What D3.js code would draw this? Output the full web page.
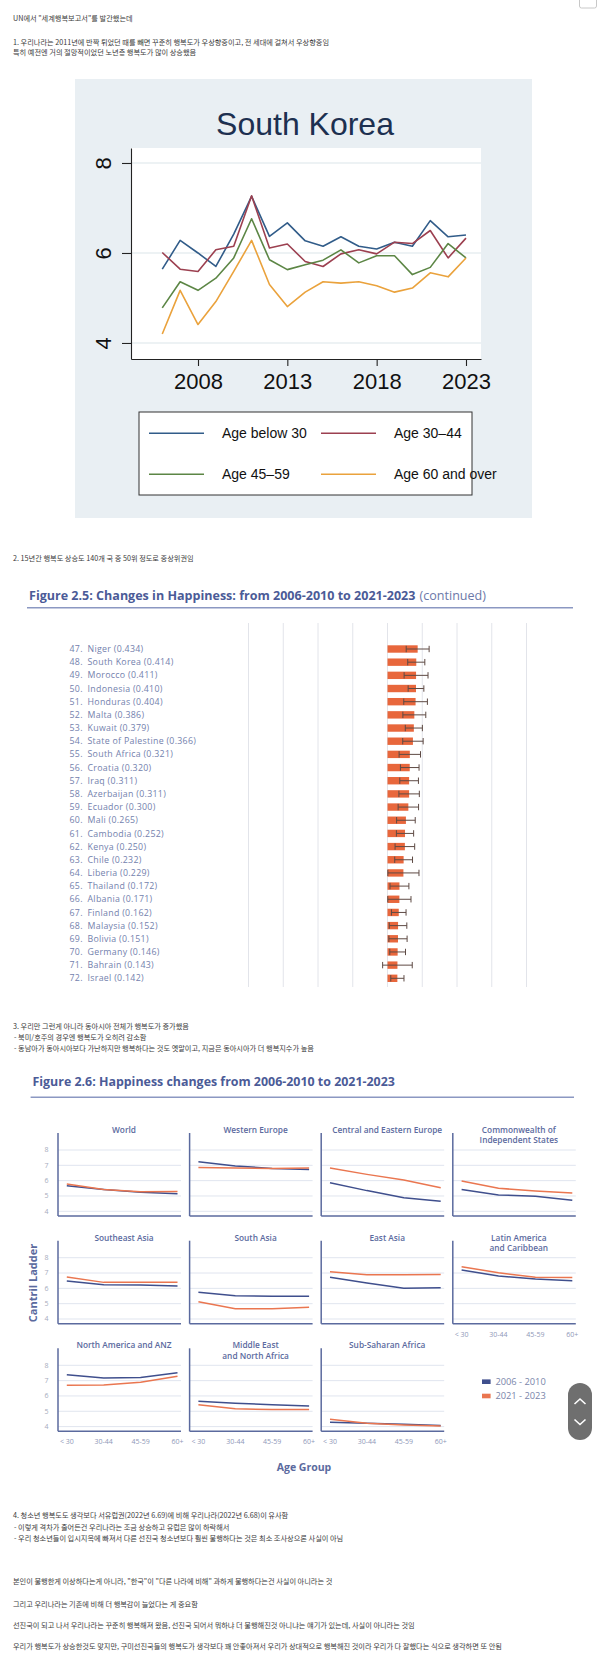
<!DOCTYPE html>
<html><head><meta charset="utf-8">
<script src="https://cdn.jsdelivr.net/npm/d3@7"></script>
<style>body{margin:0;background:#fff}svg{display:block}</style>
</head><body>
<svg id="page" width="600" height="1656"></svg>
<script>
// ---------------- DATA ----------------
const koreaYears = [2006,2007,2008,2009,2010,2011,2012,2013,2014,2015,2016,2017,2018,2019,2020,2021,2022,2023];
const ageBelow30 = [5.64,6.28,6.00,5.70,6.42,7.26,6.37,6.67,6.27,6.15,6.36,6.15,6.09,6.24,6.15,6.72,6.36,6.40];
const age30to44  = [6.01,5.64,5.59,6.07,6.15,7.27,6.11,6.20,5.81,5.70,5.98,6.07,5.98,6.24,6.21,6.50,5.89,6.33];
const age45to59  = [4.78,5.36,5.17,5.44,5.89,6.76,5.85,5.63,5.74,5.84,6.07,5.78,5.94,5.94,5.52,5.68,6.21,5.89];
const age60plus  = [4.20,5.17,4.41,4.92,5.59,6.28,5.30,4.81,5.13,5.36,5.33,5.36,5.27,5.13,5.22,5.56,5.47,5.89];
const koreaSeriesNames = ["Age below 30","Age 30\u201344","Age 45\u201359","Age 60 and over"];
const koreaYTicks = [4,6,8];
const koreaXTicks = [2008,2013,2018,2023];

const ranks = [47,48,49,50,51,52,53,54,55,56,57,58,59,60,61,62,63,64,65,66,67,68,69,70,71,72];
const countries = ["Niger","South Korea","Morocco","Indonesia","Honduras","Malta","Kuwait","State of Palestine","South Africa","Croatia","Iraq","Azerbaijan","Ecuador","Mali","Cambodia","Kenya","Chile","Liberia","Thailand","Albania","Finland","Malaysia","Bolivia","Germany","Bahrain","Israel"];
const changes = [0.434,0.414,0.411,0.410,0.404,0.386,0.379,0.366,0.321,0.320,0.311,0.311,0.300,0.265,0.252,0.250,0.232,0.229,0.172,0.171,0.162,0.152,0.151,0.146,0.143,0.142];
const margins = [0.165,0.123,0.172,0.113,0.170,0.165,0.123,0.147,0.154,0.134,0.134,0.147,0.147,0.134,0.124,0.141,0.128,0.224,0.136,0.167,0.105,0.126,0.131,0.113,0.213,0.095];
const changeGrid = [-2,-1.5,-1,-0.5,0,0.5,1,1.5,2];

const regions = ["World","Western Europe","Central and Eastern Europe","Commonwealth of\nIndependent States","Southeast Asia","South Asia","East Asia","Latin America\nand Caribbean","North America and ANZ","Middle East\nand North Africa","Sub-Saharan Africa"];
const ageGroups = ["< 30","30-44","45-59","60+"];
const ladder2006to2010 = [
  [5.67,5.43,5.24,5.15],[7.24,6.96,6.80,6.72],[5.87,5.35,4.89,4.65],[5.43,5.07,4.98,4.72],
  [6.48,6.24,6.22,6.15],[5.74,5.52,5.48,5.48],[6.72,6.35,6.00,6.04],[7.20,6.80,6.61,6.50],
  [7.39,7.17,7.20,7.52],[5.65,5.52,5.43,5.35],[4.28,4.22,4.15,4.07]];
const ladder2021to2023 = [
  [5.78,5.43,5.28,5.30],[6.85,6.83,6.80,6.82],[6.83,6.41,6.04,5.54],[5.98,5.50,5.33,5.20],
  [6.74,6.39,6.39,6.39],[5.13,4.67,4.67,4.76],[7.09,6.89,6.89,6.91],[7.41,7.02,6.72,6.70],
  [6.70,6.72,6.89,7.28],[5.43,5.17,5.11,5.11],[4.48,4.22,4.11,4.04]];
const ladderTicks = [4,5,6,7,8];
const periodNames = ["2006 - 2010","2021 - 2023"];

const introLines = ["UN\uc5d0\uc11c \"\uc138\uacc4\ud589\ubcf5\ubcf4\uace0\uc11c\"\ub97c \ubc1c\uac04\ud588\ub294\ub370",
  "1. \uc6b0\ub9ac\ub098\ub77c\ub294 2011\ub144\uc5d0 \ubc18\uc9dd \ud280\uc5c8\ub358 \ub54c\ub97c \ube7c\uba74 \uafb8\uc900\ud788 \ud589\ubcf5\ub3c4\uac00 \uc6b0\uc0c1\ud5a5\uc911\uc774\uace0, \uc804 \uc138\ub300\uc5d0 \uac78\uccd0\uc11c \uc6b0\uc0c1\ud5a5\uc911\uc784",
  "\ud2b9\ud788 \uc608\uc804\uc5d4 \uac70\uc758 \uc808\ub9dd\uc801\uc774\uc5c8\ub358 \ub178\ub144\uce35 \ud589\ubcf5\ub3c4\uac00 \ub9ce\uc774 \uc0c1\uc2b9\ud588\uc74c"];
const section2Lines = ["2. 15\ub144\uac04 \ud589\ubcf5\ub3c4 \uc0c1\uc2b9\ub3c4 140\uac1c \uad6d \uc911 50\uc704 \uc815\ub3c4\ub85c \uc911\uc0c1\uc704\uad8c\uc784"];
const section3Lines = ["3. \uc6b0\ub9ac\ub9cc \uadf8\ub7f0\uac8c \uc544\ub2c8\ub77c \ub3d9\uc544\uc2dc\uc544 \uc804\uccb4\uac00 \ud589\ubcf5\ub3c4\uac00 \uc99d\uac00\ud588\uc74c",
  "- \ubd81\ubbf8/\ud638\uc8fc\uc758 \uacbd\uc6b0\uc5d4 \ud589\ubcf5\ub3c4\uac00 \uc624\ud788\ub824 \uac10\uc18c\ud568",
  "- \ub3d9\ub0a8\uc544\uac00 \ub3d9\uc544\uc2dc\uc544\ubcf4\ub2e4 \uac00\ub09c\ud558\uc9c0\ub9cc \ud589\ubcf5\ud558\ub2e4\ub294 \uac83\ub3c4 \uc61b\ub9d0\uc774\uace0, \uc9c0\uae08\uc740 \ub3d9\uc544\uc2dc\uc544\uac00 \ub354 \ud589\ubcf5\uc9c0\uc218\uac00 \ub192\uc74c"];
const section4Lines = ["4. \uccad\uc18c\ub144 \ud589\ubcf5\ub3c4\ub3c4 \uc0dd\uac01\ubcf4\ub2e4 \uc11c\uc720\ub7fd\uad8c(2022\ub144 6.69)\uc5d0 \ube44\ud574 \uc6b0\ub9ac\ub098\ub77c(2022\ub144 6.68)\uc774 \uc720\uc0ac\ud568",
  "- \uc774\ub807\uac8c \uaca9\ucc28\uac00 \uc904\uc5b4\ub4e0\uac74 \uc6b0\ub9ac\ub098\ub77c\ub294 \uc870\uae08 \uc0c1\uc2b9\ud558\uace0 \uc720\ub7fd\uc740 \ub9ce\uc774 \ud558\ub77d\ud574\uc11c",
  "- \uc6b0\ub9ac \uccad\uc18c\ub144\ub4e4\uc774 \uc785\uc2dc\uc9c0\uc625\uc5d0 \ube60\uc838\uc11c \ub2e4\ub978 \uc120\uc9c4\uad6d \uccad\uc18c\ub144\ubcf4\ub2e4 \ud6e8\uc52c \ubd88\ud589\ud558\ub2e4\ub294 \uac83\uc740 \ucd5c\uc18c \uc870\uc0ac\uc0c1\uc73c\ub860 \uc0ac\uc2e4\uc774 \uc544\ub2d8"];
const closingLines = ["\ubcf8\uc778\uc774 \ubd88\ud589\ud55c\uac8c \uc774\uc0c1\ud558\ub2e4\ub294\uac8c \uc544\ub2c8\ub77c, \"\ud55c\uad6d\"\uc774 \"\ub2e4\ub978 \ub098\ub77c\uc5d0 \ube44\ud574\" \uacfc\ud558\uac8c \ubd88\ud589\ud558\ub2e4\ub294\uac74 \uc0ac\uc2e4\uc774 \uc544\ub2c8\ub77c\ub294 \uac83",
  "\uadf8\ub9ac\uace0 \uc6b0\ub9ac\ub098\ub77c\ub294 \uae30\uc874\uc5d0 \ube44\ud574 \ub354 \ud589\ubcf5\uac10\uc774 \ub298\uc5c8\ub2e4\ub294 \uac8c \uc911\uc694\ud568",
  "\uc120\uc9c4\uad6d\uc774 \ub418\uace0 \ub098\uc11c \uc6b0\ub9ac\ub098\ub77c\ub294 \uafb8\uc900\ud788 \ud589\ubcf5\ud574\uc838 \uc654\uc74c, \uc120\uc9c4\uad6d \ub418\uc5b4\uc11c \ubb50\ud558\ub0d0 \ub354 \ubd88\ud589\ud574\uc9c4\uac83 \uc544\ub2c8\ub0d0\ub294 \uc598\uae30\uac00 \uc788\ub294\ub370, \uc0ac\uc2e4\uc774 \uc544\ub2c8\ub77c\ub294 \uac83\uc784",
  "\uc6b0\ub9ac\uac00 \ud589\ubcf5\ub3c4\uac00 \uc0c1\uc2b9\ud55c\uac83\ub3c4 \ub9de\uc9c0\ub9cc, \uad6c\ubbf8\uc120\uc9c4\uad6d\ub4e4\uc758 \ud589\ubcf5\ub3c4\uac00 \uc0dd\uac01\ubcf4\ub2e4 \uaf64 \uc548\uc88b\uc544\uc838\uc11c \uc6b0\ub9ac\uac00 \uc0c1\ub300\uc801\uc73c\ub85c \ud589\ubcf5\ud574\uc9c4 \uac83\uc774\ub77c \uc6b0\ub9ac\uac00 \ub2e4 \uc798\ud588\ub2e4\ub294 \uc2dd\uc73c\ub85c \uc0dd\uac01\ud558\uba74 \ub610 \uc548\ub428"];

// ---------------- DRAW ----------------
const svg = d3.select("#page");
const KF = "'Noto Sans CJK KR','Noto Sans',sans-serif";
const AF = "'Liberation Sans',Arial,sans-serif";
const GF = "'Open Sans','Noto Sans',sans-serif";

function writeLines(lines, x, ys) {
  svg.append("g").selectAll("text").data(lines).join("text")
    .attr("x", (d,i)=> d.startsWith("-") && i>0 ? x+1 : x)
    .attr("y", (d,i)=>ys[i])
    .attr("font-family", KF).attr("font-size", 7.2).attr("fill", "#3a3a3a")
    .text(d=>d);
}
writeLines(introLines, 13, [20.7, 44.7, 55.2]);
writeLines(section2Lines, 13, [560.7]);
writeLines(section3Lines, 13, [1029.4, 1040, 1051]);
writeLines(section4Lines, 13, [1518.2, 1530, 1541]);
writeLines(closingLines, 13, [1583.7, 1606.7, 1628.4, 1649.2]);

// top-right button chrome
svg.append("rect").attr("x",579.5).attr("y",-3).attr("width",17).attr("height",11).attr("rx",2)
  .attr("fill","#fff").attr("stroke","#c8c8c8");

// ===== South Korea chart =====
const kx0=131, kx1=481, ky0=148, ky1=359;
const xK = d3.scaleLinear().domain([2004.25, 2023.84]).range([kx0,kx1]);
const yK = d3.scaleLinear().domain([3.644, 8.333]).range([ky1,ky0]);
const kg = svg.append("g");
kg.append("rect").attr("x",75).attr("y",79).attr("width",457).attr("height",439).attr("fill","#e9eff3");
kg.append("text").attr("x",305).attr("y",135).attr("text-anchor","middle")
  .attr("font-family",AF).attr("font-size",32).attr("fill","#1d3050").text("South Korea");
kg.append("rect").attr("x",kx0).attr("y",ky0).attr("width",kx1-kx0).attr("height",ky1-ky0).attr("fill","#fff");
kg.selectAll("line.kgrid").data(koreaYTicks).join("line").attr("class","kgrid")
  .attr("x1",kx0).attr("x2",kx1).attr("y1",d=>yK(d)).attr("y2",d=>yK(d))
  .attr("stroke","#e7eef1").attr("stroke-width",1.3);
const ya = kg.append("g").attr("transform",`translate(${kx0},0)`)
  .call(d3.axisLeft(yK).tickValues(koreaYTicks).tickSize(9).tickSizeOuter(0).tickFormat(d3.format("d")));
const xa = kg.append("g").attr("transform",`translate(0,${ky1})`)
  .call(d3.axisBottom(xK).tickValues(koreaXTicks).tickSize(7).tickSizeOuter(0).tickFormat(d3.format("d")));
[ya,xa].forEach(a=>{ a.select(".domain").attr("stroke","#222").attr("stroke-width",1.1);
  a.selectAll(".tick line").attr("stroke","#222").attr("stroke-width",1.1); });
ya.selectAll(".tick text").attr("transform","rotate(-90)").attr("x",0).attr("y",-20).attr("dy",0)
  .attr("text-anchor","middle").attr("font-family",AF).attr("font-size",22).attr("fill","#111");
xa.selectAll(".tick text").attr("y",30.3).attr("dy",0)
  .attr("font-family",AF).attr("font-size",22).attr("fill","#111");
const koreaSeries = [ageBelow30, age30to44, age45to59, age60plus];
const koreaColors = ["#315c89","#9c4050","#5c8645","#eaa23c"];
const kline = d3.line().x((d,i)=>xK(koreaYears[i])).y(d=>yK(d));
kg.selectAll("path.kser").data(koreaSeries).join("path").attr("class","kser")
  .attr("d",d=>kline(d)).attr("fill","none").attr("stroke",(d,i)=>koreaColors[i])
  .attr("stroke-width",1.6).attr("stroke-linejoin","round");
// legend
kg.append("rect").attr("x",139).attr("y",412).attr("width",333).attr("height",83)
  .attr("fill","#fff").attr("stroke","#333").attr("stroke-width",1);
const legPos = [[149,433.3],[321,433.3],[149,474.3],[321,474.3]];
koreaSeriesNames.forEach((n,i)=>{
  const [lx,ly]=legPos[i];
  kg.append("line").attr("x1",lx).attr("x2",lx+55).attr("y1",ly).attr("y2",ly)
    .attr("stroke",koreaColors[i]).attr("stroke-width",1.6);
  kg.append("text").attr("x",lx+73).attr("y",ly+5).attr("font-family",AF).attr("font-size",14)
    .attr("fill","#111").text(n);
});

// ===== Figure titles =====
const titleColor = "#4b5b97";
function figTitle(x, y, bold, normal, targetWidth) {
  const base = 13, gap = 3.6;
  const t1 = svg.append("text").attr("x", x).attr("y", y).attr("font-family", GF)
    .attr("font-size", base).attr("font-weight", 700).attr("fill", titleColor).text(bold);
  let w1 = t1.node().getComputedTextLength();
  let t2 = null, w2 = 0;
  if (normal) {
    t2 = svg.append("text").attr("y", y).attr("font-family", GF).attr("font-size", base)
      .attr("font-weight", 400).attr("fill", "#6b78a8").text(normal);
    w2 = t2.node().getComputedTextLength();
  }
  const s = (targetWidth - (normal ? gap : 0)) / (w1 + w2);
  t1.attr("font-size", base * s);
  if (t2) t2.attr("font-size", base * s).attr("x", x + w1 * s + gap);
}
figTitle(29, 599.5, "Figure 2.5: Changes in Happiness: from 2006-2010 to 2021-2023", "(continued)", 457);
svg.append("line").attr("x1",27).attr("x2",573).attr("y1",607.7).attr("y2",607.7).attr("stroke","#8b98c2").attr("stroke-width",1.6);

// ===== Figure 2.5 bars =====
const xB = d3.scaleLinear().domain([-2,2]).range([248.5,526.5]);
const yB = d3.scalePoint().domain(ranks).range([649, 978.3]);
const bg = svg.append("g");
bg.selectAll("line.bgrid").data(changeGrid).join("line").attr("class","bgrid")
  .attr("x1",d=>xB(d)).attr("x2",d=>xB(d)).attr("y1",623).attr("y2",987)
  .attr("stroke","#e2e4ea").attr("stroke-width",1);
bg.selectAll("rect.bar").data(ranks).join("rect").attr("class","bar")
  .attr("x",xB(0)).attr("y",d=>yB(d)-3.7).attr("width",(d,i)=>xB(changes[i])-xB(0)).attr("height",7.4)
  .attr("fill","#e8673c");
const eb = bg.selectAll("g.eb").data(ranks).join("g").attr("class","eb")
  .attr("transform",d=>`translate(0,${yB(d)})`);
eb.append("line").attr("x1",(d,i)=>xB(changes[i]-margins[i])).attr("x2",(d,i)=>xB(changes[i]+margins[i]))
  .attr("y1",0).attr("y2",0).attr("stroke","#5e4a44").attr("stroke-width",1);
eb.append("line").attr("x1",(d,i)=>xB(changes[i]-margins[i])).attr("x2",(d,i)=>xB(changes[i]-margins[i]))
  .attr("y1",-3.2).attr("y2",3.2).attr("stroke","#5e4a44").attr("stroke-width",1);
eb.append("line").attr("x1",(d,i)=>xB(changes[i]+margins[i])).attr("x2",(d,i)=>xB(changes[i]+margins[i]))
  .attr("y1",-3.2).attr("y2",3.2).attr("stroke","#5e4a44").attr("stroke-width",1);
bg.selectAll("text.rk").data(ranks).join("text").attr("class","rk")
  .attr("x",69.6).attr("y",d=>yB(d)+3.1).attr("font-family",GF).attr("font-size",8.8)
  .attr("letter-spacing",0.25).attr("fill","#7381ad").text(d=>d+".");
bg.selectAll("text.cn").data(ranks).join("text").attr("class","cn")
  .attr("x",87.5).attr("y",d=>yB(d)+3.1).attr("font-family",GF).attr("font-size",8.8)
  .attr("letter-spacing",0.3).attr("fill","#7381ad").text((d,i)=>`${countries[i]} (${changes[i].toFixed(3)})`);

// ===== Figure 2.6 =====
figTitle(32.5, 1086, "Figure 2.6: Happiness changes from 2006-2010 to 2021-2023", null, 363);
svg.append("line").attr("x1",30.6).attr("x2",574).attr("y1",1097.3).attr("y2",1097.3).attr("stroke","#8b98c2").attr("stroke-width",1.6);

const panelW = 123;
const rowBase = [1150, 1257.7, 1365.3];
const yF = d3.scaleLinear().domain([4,8]).range([61.3,0]);
const xF = d3.scalePoint().domain(ageGroups).range([8.8,119.5]);
const axisCol = "#5b6a9e";
const fline = d3.line().x((d,i)=>xF(ageGroups[i])).y(d=>yF(d));
regions.forEach((name,k)=>{
  const col = k%4, row = Math.floor(k/4);
  const g = svg.append("g").attr("transform",`translate(${58+131.6*col},${rowBase[row]})`);
  g.selectAll("line.fg").data(ladderTicks).join("line").attr("class","fg")
    .attr("x1",0).attr("x2",panelW).attr("y1",d=>yF(d)).attr("y2",d=>yF(d))
    .attr("stroke","#e0e5ef").attr("stroke-width",1);
  g.append("line").attr("x1",0).attr("x2",0).attr("y1",-17).attr("y2",66).attr("stroke",axisCol).attr("stroke-width",1.5);
  g.append("line").attr("x1",0).attr("x2",panelW).attr("y1",66).attr("y2",66).attr("stroke",axisCol).attr("stroke-width",1.5);
  name.split("\n").forEach((ln,j)=>{
    g.append("text").attr("x",66).attr("y",-17+j*10.3).attr("text-anchor","middle")
      .attr("font-family",GF).attr("font-weight",600).attr("font-size",8.3).attr("fill","#5b6a9e").text(ln);
  });
  g.append("path").attr("d",fline(ladder2006to2010[k])).attr("fill","none").attr("stroke","#3f4f8d").attr("stroke-width",1.5);
  g.append("path").attr("d",fline(ladder2021to2023[k])).attr("fill","none").attr("stroke","#ea7650").attr("stroke-width",1.5);
  if (col===0) {
    g.selectAll("text.yt").data(ladderTicks).join("text").attr("class","yt")
      .attr("x",-11.6).attr("y",d=>yF(d)+2.4).attr("text-anchor","middle")
      .attr("font-family",GF).attr("font-size",7).attr("fill","#a6abbd").text(d=>d);
  }
  if (row===2 || k===7) {
    g.selectAll("text.ag").data(ageGroups).join("text").attr("class","ag")
      .attr("x",d=>xF(d)).attr("y",79).attr("text-anchor","middle")
      .attr("font-family",GF).attr("font-size",7).attr("fill","#8f98b8").text(d=>d);
  }
});
svg.append("text").attr("transform","translate(36.5,1283) rotate(-90)").attr("text-anchor","middle")
  .attr("font-family",GF).attr("font-weight",700).attr("font-size",11).attr("fill","#5b6a9e").text("Cantril Ladder");
svg.append("text").attr("x",304).attr("y",1470.5).attr("text-anchor","middle")
  .attr("font-family",GF).attr("font-weight",700).attr("font-size",10.5).attr("fill","#5b6a9e").text("Age Group");
const periodColors = ["#3f4f8d","#ea7650"];
periodNames.forEach((p,i)=>{
  const ly = 1381.7 + i*14.3;
  svg.append("rect").attr("x",482).attr("y",ly-2.3).attr("width",8.6).attr("height",4.6).attr("fill",periodColors[i]);
  svg.append("text").attr("x",495.4).attr("y",ly+3.3).attr("font-family",GF).attr("font-size",9.3)
    .attr("fill","#7a86aa").text(p);
});
// scroll control chrome
svg.append("rect").attr("x",568).attr("y",1383).attr("width",24).attr("height",57).attr("rx",12).attr("fill","#6f6f6f");
svg.append("path").attr("d","M574.5,1404 L580,1399 L585.5,1404").attr("fill","none").attr("stroke","#fff").attr("stroke-width",1.6);
svg.append("path").attr("d","M574.5,1419.5 L580,1424.5 L585.5,1419.5").attr("fill","none").attr("stroke","#fff").attr("stroke-width",1.6);
</script>
</body></html>
